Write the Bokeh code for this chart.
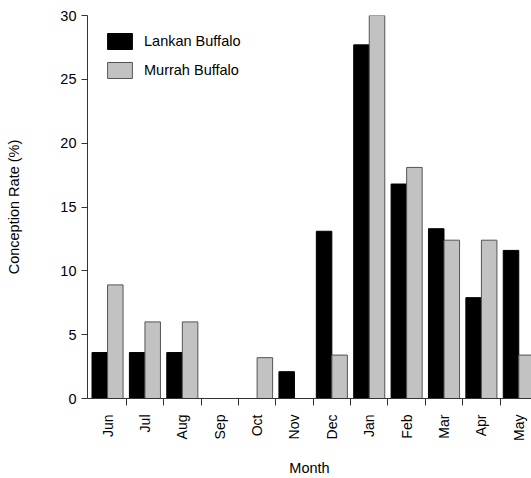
from bokeh.plotting import figure
from bokeh.models import ColumnDataSource, FixedTicker, Range1d, Legend, LegendItem
from bokeh.embed import file_html
from bokeh.resources import INLINE
from bokeh.transform import dodge
import math

months = ["Jun", "Jul", "Aug", "Sep", "Oct", "Nov", "Dec", "Jan", "Feb", "Mar", "Apr", "May"]
lankan = [3.6, 3.6, 3.6, 0.0, 0.0, 2.1, 13.1, 27.7, 16.8, 13.3, 7.9, 11.6]
murrah = [8.9, 6.0, 6.0, 0.0, 3.2, 0.0, 3.4, 30.0, 18.1, 12.4, 12.4, 3.4]
y_ticks = [0, 5, 10, 15, 20, 25, 30]

xs = list(range(len(months)))
src = ColumnDataSource(dict(x=xs, lankan=lankan, murrah=murrah))

FONT = "Liberation Sans"

p = figure(width=531, height=478, output_backend="svg", toolbar_location=None,
           x_range=Range1d(-0.536, 11.34), y_range=Range1d(0, 30),
           min_border_left=87, min_border_right=0, min_border_top=15, min_border_bottom=80)
p.outline_line_color = None
p.grid.grid_line_color = None

bw = 0.415
r1 = p.vbar(x=dodge("x", -0.208), top="lankan", width=bw, source=src,
            fill_color="black", line_color="black", line_width=1)
r2 = p.vbar(x=dodge("x", 0.208), top="murrah", width=bw, source=src,
            fill_color="#c2c2c2", line_color="#555555", line_width=1)

# x axis
p.xaxis.ticker = FixedTicker(ticks=xs, minor_ticks=[i + 0.5 for i in xs])
p.xaxis.major_label_overrides = {i: m for i, m in enumerate(months)}
p.xaxis.major_label_orientation = math.pi / 2
p.xaxis.major_tick_out = 0
p.xaxis.major_tick_in = 0
p.xaxis.minor_tick_out = 7
p.xaxis.minor_tick_in = 0
p.xaxis.minor_tick_line_color = "#333333"
p.xaxis.axis_line_color = "#333333"
p.xaxis.major_label_standoff = 9
p.xaxis.major_label_text_font = FONT
p.xaxis.major_label_text_font_size = "14px"
p.xaxis.major_label_text_color = "black"
p.xaxis.axis_label = "Month"
p.xaxis.axis_label_text_font = FONT
p.xaxis.axis_label_text_font_size = "14.5px"
p.xaxis.axis_label_text_font_style = "normal"
p.xaxis.axis_label_text_color = "black"
p.xaxis.axis_label_standoff = 16

# y axis
p.yaxis.ticker = FixedTicker(ticks=y_ticks)
p.yaxis.minor_tick_line_color = None
p.yaxis.major_tick_out = 6
p.yaxis.major_tick_in = 0
p.yaxis.major_tick_line_color = "#333333"
p.yaxis.axis_line_color = "#333333"
p.yaxis.major_label_standoff = 5
p.yaxis.major_label_text_font = FONT
p.yaxis.major_label_text_font_size = "14.5px"
p.yaxis.major_label_text_color = "black"
p.yaxis.axis_label = "Conception Rate (%)"
p.yaxis.axis_label_text_font = FONT
p.yaxis.axis_label_text_font_size = "14.5px"
p.yaxis.axis_label_text_font_style = "normal"
p.yaxis.axis_label_text_color = "black"
p.yaxis.axis_label_standoff = 35

legend = Legend(items=[LegendItem(label="Lankan Buffalo", renderers=[r1]),
                       LegendItem(label="Murrah Buffalo", renderers=[r2])],
                location=(17, 318))
legend.border_line_color = None
legend.background_fill_alpha = 0
legend.label_text_font = FONT
legend.label_text_font_size = "14.5px"
legend.label_text_color = "black"
legend.glyph_width = 31
legend.glyph_height = 20
legend.label_height = 18
legend.spacing = 9
legend.margin = 0
legend.padding = 0
legend.label_standoff = 9
p.add_layout(legend, "center")

open("out.html", "w").write(file_html(p, INLINE))
